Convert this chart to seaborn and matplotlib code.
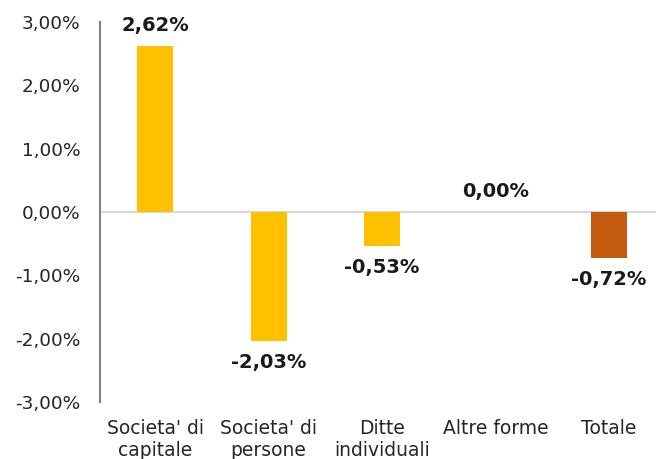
import numpy as np
import pandas as pd
import matplotlib
matplotlib.use("Agg")
import matplotlib.pyplot as plt
import seaborn as sns

# data
categorie = ["Societa' di\ncapitale", "Societa' di\npersone", "Ditte\nindividuali", "Altre forme", "Totale"]
variazione = [2.62, -2.03, -0.53, 0.00, -0.72]
colori = ["#FFC000", "#FFC000", "#FFC000", "#FFC000", "#C55A11"]
tick_valori = [3, 2, 1, 0, -1, -2, -3]

def fmt_it(v):
    return f"{v:.2f}".replace(".", ",") + "%"

sns.set_style("white")
plt.rcParams['font.family'] = ['DejaVu Sans']

df = pd.DataFrame({"cat": categorie, "val": variazione})

fig = plt.figure(figsize=(6.56, 4.59), dpi=100)
ax = fig.add_axes([100/656, 1 - 402/459, 1 - 100/656, 380/459])

ax.axhline(0, color="#D9D9D9", linewidth=1.6, zorder=0.5)
sns.barplot(data=df, x="cat", y="val", hue="cat", palette=colori, legend=False,
            width=0.317, saturation=1, linewidth=0, ax=ax)

ax.set_ylim(-3, 3)
ax.set_xlim(-0.485, 4.414)
ax.set_yticks(tick_valori)
ax.set_yticklabels([fmt_it(t) for t in tick_valori], fontsize=13.3, color="#262626")
ax.tick_params(axis="y", length=0, pad=14)
ax.tick_params(axis="x", length=0, pad=12.5, labelsize=13.5)
ax.set_xlabel("")
ax.set_ylabel("")

for s in ["top", "right", "bottom"]:
    ax.spines[s].set_visible(False)
ax.spines["left"].set_color("#808080")
ax.spines["left"].set_linewidth(1.5)

# value labels
for i, v in enumerate(variazione):
    off = 15 if v >= 0 else -16
    ax.annotate(fmt_it(v), (i, v), xytext=(0, off), textcoords="offset points",
                ha="center", va="center", fontsize=14, fontweight="bold", color="#1a1a1a")

fig.savefig("out.png", dpi=100)
